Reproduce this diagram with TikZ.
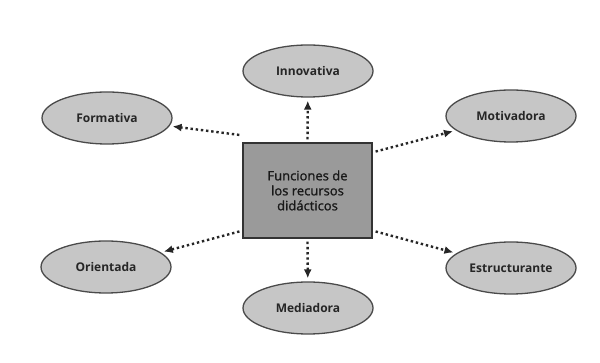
\documentclass[tikz,border=0pt]{standalone}
\usepackage{fontspec}
\setmainfont{Open Sans}
\usetikzlibrary{shapes.geometric,arrows.meta}
\definecolor{boxfill}{HTML}{9A9A9A}
\definecolor{ellfill}{HTML}{C6C6C6}
\definecolor{ellline}{HTML}{4A4A4A}
\tikzset{
  funcell/.style={ellipse, draw=ellline, line width=1.3pt, fill=ellfill,
    minimum width=130pt, minimum height=52pt, inner sep=0pt,
    font=\fontsize{12}{14}\selectfont\bfseries, text=black!85},
  centerbox/.style={rectangle, draw=black!80, line width=1.4pt, fill=boxfill,
    minimum width=129pt, minimum height=95pt, align=center,
    font=\fontsize{13}{15}\selectfont\addfontfeatures{FakeBold=1.2}, text=black!90},
  dotarrow/.style={line width=2.4pt, dash pattern=on 2.4pt off 2.8pt, black!85,
    -{Latex[length=9pt,width=8pt]}, shorten >=3pt, shorten <=3pt}
}
\begin{document}
\begin{tikzpicture}[x=1pt,y=-1pt]
\useasboundingbox (0,0) rectangle (600,363);
\fill[white] (0,0) rectangle (600,363);
\node[centerbox] (c) at (307.5,190.5) {Funciones de\\los recursos\\didácticos};
\node[funcell] (inn) at (308,71) {Innovativa};
\node[funcell] (for) at (107,118) {Formativa};
\node[funcell] (mot) at (511,116) {Motivadora};
\node[funcell] (ori) at (106,267) {Orientada};
\node[funcell] (est) at (511,268) {Estructurante};
\node[funcell] (med) at (308,308) {Mediadora};
\draw[dotarrow] (c.north) -- (inn);
\draw[dotarrow] ([yshift=7pt]c.north west) -- (for);
\draw[dotarrow] ([yshift=-10pt]c.north east) -- (mot);
\draw[dotarrow] ([yshift=8pt]c.south west) -- (ori);
\draw[dotarrow] ([yshift=8pt]c.south east) -- (est);
\draw[dotarrow] (c.south) -- (med);
\end{tikzpicture}
\end{document}
